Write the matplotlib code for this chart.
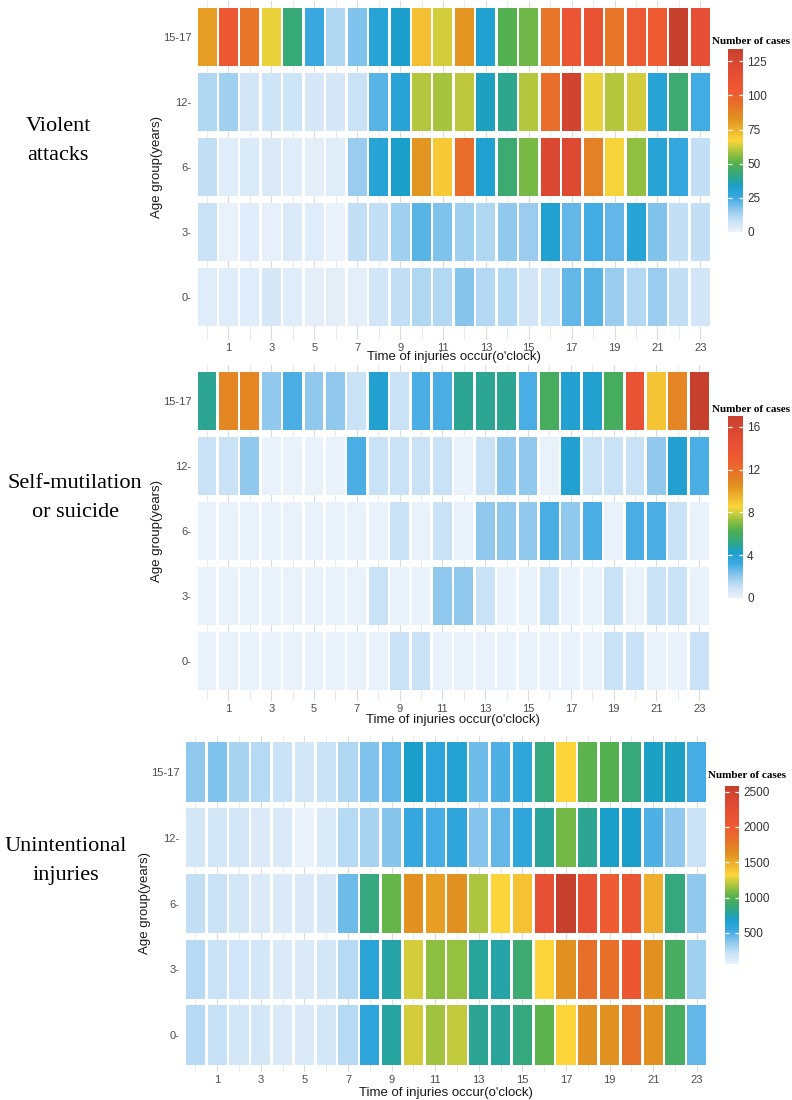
import numpy as np
import matplotlib
matplotlib.use("Agg")
import matplotlib.pyplot as plt
from matplotlib.colors import LinearSegmentedColormap, Normalize
from matplotlib.cm import ScalarMappable

plt.rcParams['font.family'] = ['Liberation Sans', 'DejaVu Sans']

hours = list(range(24))
age_groups = ['0-', '3-', '6-', '12-', '15-17']   # bottom -> top
x_ticks = list(range(1, 24, 2))

# rows listed top -> bottom as drawn: 15-17, 12-, 6-, 3-, 0-
violent = [
    [80, 105, 92, 65, 43, 26, 12, 18, 30, 33, 72, 63, 82, 32, 50, 53, 92, 108, 110, 92, 104, 103, 134, 115],
    [12, 14, 6, 7, 7, 5, 5, 8, 22, 30, 60, 59, 61, 35, 40, 60, 95, 128, 65, 60, 63, 30, 44, 25],
    [9, 3, 4, 4, 3, 2, 3, 15, 30, 34, 82, 70, 95, 32, 44, 54, 123, 121, 88, 66, 57, 30, 27, 9],
    [8, 0, 3, 1, 4, 3, 0, 9, 9, 14, 22, 18, 14, 12, 16, 15, 32, 21, 25, 21, 30, 18, 9, 9],
    [3, 3, 3, 5, 3, 2, 2, 2, 6, 9, 12, 11, 17, 11, 11, 6, 7, 21, 22, 15, 11, 15, 9, 6],
]
self_harm = [
    [5, 11, 11, 2, 3, 2, 2, 1, 4, 1, 3, 3, 5, 5, 5, 3, 6, 4, 4, 6, 14, 9, 11, 17],
    [1, 1, 2, 0, 0, 0, 0, 3, 1, 1, 1, 1, 0, 1, 2, 2, 0, 4, 1, 1, 1, 2, 4, 3],
    [0, 0, 0, 0, 0, 0, 0, 0, 0, 1, 0, 1, 0, 2, 2, 2, 3, 2, 3, 0, 3, 3, 1, 0],
    [0, 0, 0, 0, 0, 0, 0, 0, 1, 0, 0, 2, 2, 1, 0, 0, 1, 0, 0, 1, 0, 1, 1, 0],
    [0, 0, 0, 0, 0, 0, 0, 0, 0, 1, 1, 0, 0, 0, 0, 0, 0, 0, 0, 1, 1, 0, 0, 1],
]
unintentional = [
    [360, 400, 300, 260, 210, 160, 210, 280, 400, 460, 690, 600, 650, 440, 500, 590, 850, 1320, 1020, 1000, 860, 700, 700, 520],
    [160, 160, 160, 135, 135, 60, 135, 260, 300, 380, 560, 520, 590, 380, 460, 590, 780, 1070, 805, 690, 690, 500, 360, 210],
    [230, 210, 160, 135, 135, 135, 150, 440, 855, 1040, 1620, 1560, 1620, 1180, 1320, 1400, 2200, 2580, 2200, 2000, 2100, 1485, 855, 360],
    [260, 210, 185, 160, 135, 135, 160, 260, 620, 760, 1245, 1120, 1140, 780, 760, 890, 1320, 1620, 1825, 1825, 2050, 1620, 940, 320],
    [260, 220, 160, 160, 135, 135, 160, 260, 600, 770, 1250, 1160, 1220, 805, 780, 855, 1020, 1320, 1620, 1620, 1825, 1620, 940, 460],
]

violent_ticks = [0, 25, 50, 75, 100, 125]
self_ticks = [0, 4, 8, 12, 16]
unint_ticks = [500, 1000, 1500, 2000, 2500]

stops = [
    (0.00, '#e9f1fa'), (0.06, '#c9e2f6'), (0.12, '#8fc8ee'), (0.19, '#3aa8e2'),
    (0.25, '#1a9fcc'), (0.29, '#2aa596'), (0.33, '#3caa70'), (0.37, '#50b050'),
    (0.42, '#8cbe40'), (0.47, '#d2cd3c'), (0.50, '#fcd63a'), (0.56, '#eeb22e'),
    (0.62, '#e0911f'), (0.70, '#e8702a'), (0.77, '#ee5a32'), (0.88, '#e44c34'),
    (1.00, '#c6402d'),
]
cmap = LinearSegmentedColormap.from_list('cases', stops)

W, H = 792, 1100
fig = plt.figure(figsize=(W / 100, H / 100), dpi=100)


def px_axes(left, top, width, height):
    return fig.add_axes([left / W, 1 - (top + height) / H, width / W, height / H])


def panel(data, ticks, x0, sx, cy_top, sy, y_low, cbar_box, title_xy, ylab_x, xlab_y, label, label_xy):
    values = np.array(data[::-1], dtype=float)   # bottom -> top
    norm = Normalize(vmin=values.min(), vmax=values.max())
    ax = px_axes(x0 - 0.1 * sx, cy_top - 0.55 * sy, 24.2 * sx, (4.55 - y_low) * sy)
    for r in range(len(age_groups)):
        ax.bar(hours, 0.9, width=0.885, bottom=r - 0.45,
               color=cmap(norm(values[r])), linewidth=0, zorder=2)
    ax.set_xlim(-0.6, 23.6)
    ax.set_ylim(y_low, 4.55)
    ax.set_xticks(x_ticks)
    ax.set_xticks([h for h in hours if h % 2 == 0], minor=True)
    ax.set_yticks(range(len(age_groups)))
    ax.set_yticklabels(age_groups)
    ax.grid(axis='x', which='major', color='#dcdcdc', lw=0.8, zorder=0)
    ax.grid(axis='x', which='minor', color='#e6e6e6', lw=0.6, zorder=0)
    ax.tick_params(which='both', length=0, labelsize=8, labelcolor='#4d4d4d')
    ax.tick_params(axis='x', pad=2)
    ax.tick_params(axis='y', pad=2)
    for s in ax.spines.values():
        s.set_visible(False)

    mid_x = x0 + 12 * sx
    fig.text(mid_x / W, 1 - xlab_y / H, "Time of injuries occur(o'clock)",
             ha='center', va='center', fontsize=9.5, color='#1a1a1a')
    fig.text(ylab_x / W, 1 - (cy_top + 2 * sy) / H, 'Age group(years)', rotation=90,
             ha='center', va='center', fontsize=9.5, color='#1a1a1a')
    fig.text(label_xy[0] / W, 1 - label_xy[1] / H, label, ha='center', va='center',
             fontsize=16, family='Liberation Serif', linespacing=1.75, color='black')

    cax = px_axes(*cbar_box)
    cb = fig.colorbar(ScalarMappable(norm=norm, cmap=cmap), cax=cax, ticks=ticks)
    cb.outline.set_visible(False)
    cax.tick_params(axis='y', direction='in', length=3, width=0.9, color='white',
                    left=True, right=True, labelsize=8.5, labelcolor='#333333', pad=3)
    fig.text(title_xy[0] / W, 1 - title_xy[1] / H, 'Number of cases', ha='left', va='center',
             fontsize=8, family='Liberation Serif', weight='bold', color='black')
    return ax


panel(violent, violent_ticks, 196.3, 21.45, 37, 65, -0.66, (728, 49, 15, 183), (712, 42), 157, 357,
      'Violent\nattacks', (58, 141))
panel(self_harm, self_ticks, 196.3, 21.4, 401, 65, -0.62, (728, 416, 15, 182), (712, 409), 157, 720,
      'Self-mutilation\nor suicide', (75, 498))
panel(unintentional, unint_ticks, 184.5, 21.8, 772, 65.75, -0.57, (725, 786, 14, 178), (708, 775), 145, 1093,
      'Unintentional\ninjuries', (66, 861))

fig.savefig('out.png', dpi=100)
